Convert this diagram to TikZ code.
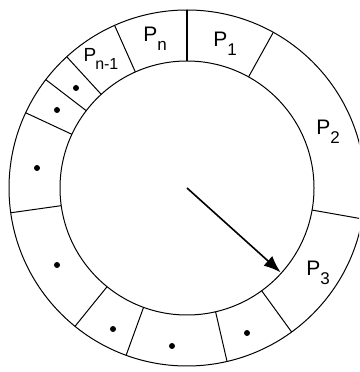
\documentclass[tikz,border=0pt]{standalone}
\usepackage{fontspec}
\setmainfont{Liberation Sans}
\usetikzlibrary{arrows.meta}
\newcommand{\plab}[1]{P\raisebox{-0.45em}{\fontsize{17}{17}\selectfont #1}}
\tikzset{
    ring/.style = {line width=1pt},
    spoke/.style = {line width=1pt},
    dot/.style = {circle, fill, inner sep=0pt, minimum size=6pt},
    plabel/.style = {font=\fontsize{21}{24}\selectfont, inner sep=0pt}
}
\begin{document}
\begin{tikzpicture}[x=1pt,y=1pt]
            \useasboundingbox (0,0) rectangle (359,372);
            \clip (0,0) rectangle (359,372);
            \coordinate (c) at (187,184);
            % rings
            \draw[ring] (c) circle (127);
            \draw[ring] (c) circle (178);
            % dividers
            \foreach \a in {61,-10,-54,-77,-110,-129,-172,155,142.5,132.5,114}
                \draw[spoke] ([shift={(\a:127)}]c) -- ([shift={(\a:178)}]c);
            \draw[line width=1.6pt] ([shift={(90:127)}]c) -- ([shift={(90:178)}]c);
            % labels
            \node[plabel] (pn) at (155,333) {\plab{n}};
            \node[plabel] (p1) at (225,328) {\plab{1}};
            \node[plabel] (p2) at (328,240) {\plab{2}};
            \node[plabel] (p3) at (318,99) {\plab{3}};
            \node[plabel, font=\fontsize{19}{22}\selectfont] (pnm) at (101,313)
                {P\kern-1pt\raisebox{-0.45em}{\fontsize{16}{16}\selectfont n-1}};
            % dots
            \foreach \n/\x/\y in {1/76/284, 2/57/262, 3/37/204, 4/57/107, 5/113/43, 6/172/26, 7/247/39}
                \node[dot] (d\n) at (\x,\y) {};
            % pointer
            \coordinate (tip) at ([shift={(-42:126)}]c);
            \draw[line width=1.6pt, -{Latex[length=17pt,width=13pt]}] (c) -- (tip);
        \end{tikzpicture}
\end{document}
